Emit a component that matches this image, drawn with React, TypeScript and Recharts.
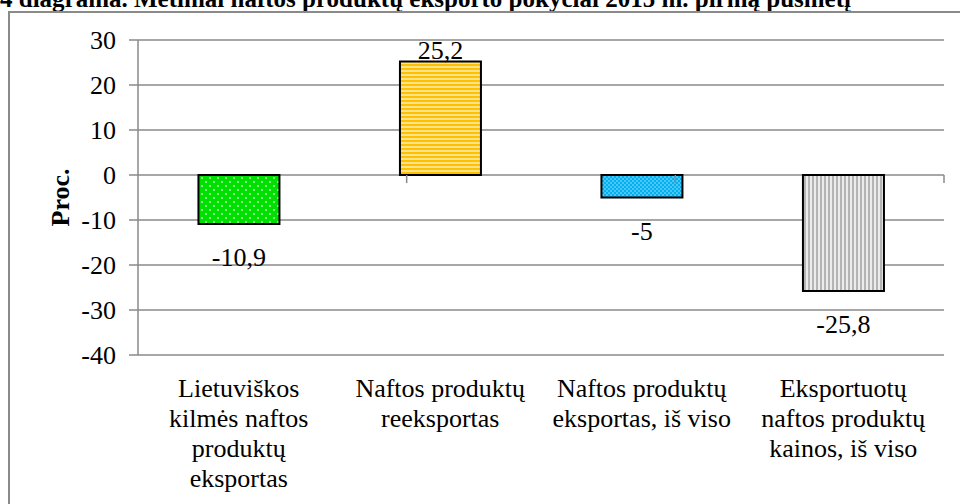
import { BarChart, Bar, XAxis, YAxis, CartesianGrid, ReferenceLine, LabelList, Cell } from "recharts";

const title = "4 diagrama. Metiniai naftos produktų eksporto pokyčiai 2015 m. pirmą pusmetį";
const categories = [
  "Lietuviškos\nkilmės naftos\nproduktų\neksportas",
  "Naftos produktų\nreeksportas",
  "Naftos produktų\neksportas, iš viso",
  "Eksportuotų\nnaftos produktų\nkainos, iš viso",
];
const values = [-10.9, 25.2, -5, -25.8];
const yTicks = [-40, -30, -20, -10, 0, 10, 20, 30];
const yLabel = "Proc.";

const FONT = "'Liberation Serif', 'Times New Roman', serif";
const GRID = "#8a8a8a";
const patternIds = ["pGreen", "pYellow", "pBlue", "pGray"];
const txt = { fontFamily: FONT, fontSize: 26, fill: "#000" };

const data = categories.map((name, i) => ({ name, value: values[i] }));
const boundaries = categories.map((_, i) => i + 1);

const CategoryTick = (props: any) => {
  const { x, y, payload } = props;
  const lines = String(payload.value).split("\n");
  return (
    <text x={x} y={y} textAnchor="middle" style={txt}>
      {lines.map((l, i) => (
        <tspan key={i} x={x} dy={i === 0 ? 42 : 30}>
          {l}
        </tspan>
      ))}
    </text>
  );
};

const ValueTick = (props: any) => {
  const { x, y, payload } = props;
  return (
    <text x={x} y={y} dy={9} textAnchor="end" style={txt}>
      {payload.value}
    </text>
  );
};

// value labels: above positive bars, below negative ones, decimal comma
const ValueLabel = (props: any) => {
  const vb = props.viewBox ?? props;
  const { x, y, width, height } = vb;
  const value = Number(props.value);
  const top = Math.min(y, y + height);
  const bottom = Math.max(y, y + height);
  const ty = value >= 0 ? top - 3 : bottom + 42;
  return (
    <text x={x + width / 2} y={ty} textAnchor="middle" style={txt}>
      {String(value).replace(".", ",")}
    </text>
  );
};

const AxisTitle = (props: any) => {
  const vb = props.viewBox;
  const cx = vb.x + 60;
  const cy = vb.y + vb.height / 2;
  return (
    <text
      x={cx}
      y={cy}
      transform={`rotate(-90, ${cx}, ${cy})`}
      textAnchor="middle"
      dominantBaseline="central"
      style={{ ...txt, fontWeight: "bold" }}
    >
      {yLabel}
    </text>
  );
};

export default function App() {
  return (
    <div style={{ position: "absolute", left: 0, top: 0, width: 960, height: 504, overflow: "hidden", background: "#fff", fontFamily: FONT }}>
      <div
        style={{
          position: "absolute",
          left: 0,
          top: -14,
          whiteSpace: "nowrap",
          fontWeight: "bold",
          fontSize: 25,
          lineHeight: "25px",
        }}
      >
        {title}
      </div>
      <div style={{ position: "absolute", left: 8, top: 11, width: 980, height: 520, border: `2px solid ${GRID}` }} />
      <div style={{ position: "absolute", left: 0, top: 0 }}>
        <BarChart width={960} height={504} data={data} margin={{ top: 40, right: 16, bottom: 0, left: 0 }} barCategoryGap="30%">
          <defs>
            <pattern id="pGreen" width="8" height="8" patternUnits="userSpaceOnUse">
              <rect width="8" height="8" fill="#00e000" />
              <circle cx="2" cy="2" r="0.9" fill="#c8ffc8" />
              <circle cx="6" cy="6" r="0.9" fill="#c8ffc8" />
            </pattern>
            <pattern id="pYellow" width="4" height="4" patternUnits="userSpaceOnUse">
              <rect width="4" height="4" fill="#ffe38a" />
              <rect width="4" height="2" fill="#ffc000" />
            </pattern>
            <pattern id="pBlue" width="4" height="4" patternUnits="userSpaceOnUse">
              <rect width="4" height="4" fill="#00b0f0" />
              <circle cx="1" cy="1" r="0.7" fill="#d0f0ff" />
              <circle cx="3" cy="3" r="0.7" fill="#d0f0ff" />
            </pattern>
            <pattern id="pGray" width="4" height="4" patternUnits="userSpaceOnUse">
              <rect width="4" height="4" fill="#ececec" />
              <rect width="2" height="4" fill="#b4b4b4" />
            </pattern>
          </defs>
          <CartesianGrid vertical={false} stroke={GRID} strokeWidth={1.5} />
          <XAxis
            dataKey="name"
            axisLine={false}
            tickLine={false}
            tickSize={0}
            tickMargin={0}
            interval={0}
            height={149}
            tick={<CategoryTick />}
          />
          <XAxis xAxisId="b" type="number" domain={[0, 4]} hide />
          <YAxis
            type="number"
            domain={[-40, 30]}
            ticks={yTicks}
            interval={0}
            width={138}
            tickSize={9}
            tickMargin={13}
            axisLine={{ stroke: GRID, strokeWidth: 1.5 }}
            tickLine={{ stroke: GRID, strokeWidth: 1.5 }}
            tick={<ValueTick />}
            label={<AxisTitle />}
          />
          {/* small tick marks on the zero line between categories */}
          {boundaries.map((b) => (
            <ReferenceLine
              key={b}
              xAxisId="b"
              segment={[
                { x: b, y: 0 },
                { x: b, y: -1.8 },
              ]}
              stroke={GRID}
              strokeWidth={1.5}
            />
          ))}
          <Bar dataKey="value" stroke="#000" strokeWidth={2} isAnimationActive={false}>
            {data.map((_, i) => (
              <Cell key={i} fill={`url(#${patternIds[i]})`} />
            ))}
            <LabelList dataKey="value" content={<ValueLabel />} />
          </Bar>
        </BarChart>
      </div>
    </div>
  );
}
